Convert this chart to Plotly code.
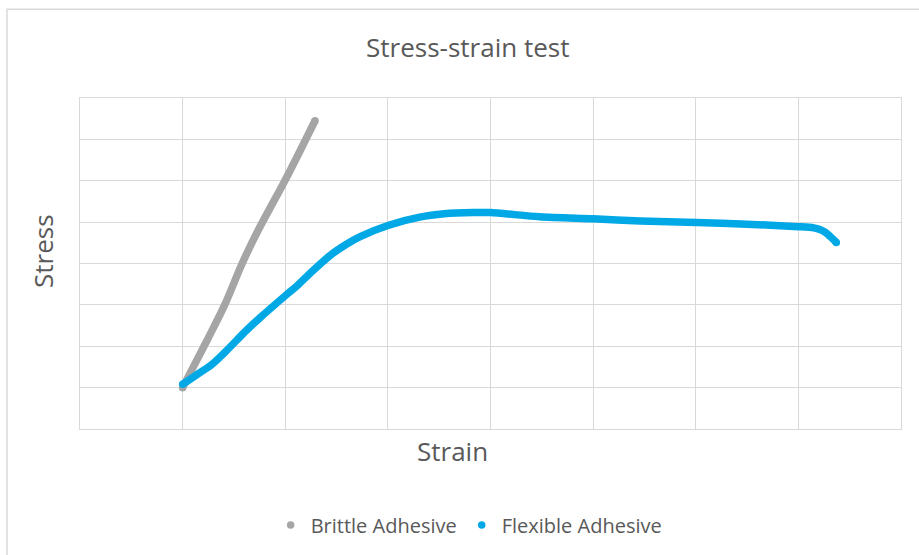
import plotly.graph_objects as go

# ---- data ----
brittle_strain = [0.0, 0.25, 0.41, 0.58, 0.74, 1.00, 1.15, 1.29]
brittle_stress = [0.0, 1.20, 2.00, 3.00, 3.82, 5.02, 5.75, 6.45]

flexible_strain = [0.0, 0.15, 0.28, 0.41, 0.62, 0.75, 1.00, 1.11, 1.24, 1.44, 1.60,
                   1.73, 2.00, 2.31, 2.55, 2.83, 3.00, 3.48, 4.00, 4.46, 5.01,
                   5.50, 6.00, 6.15, 6.21, 6.27, 6.31, 6.37]
flexible_stress = [0.08, 0.33, 0.55, 0.85, 1.38, 1.68, 2.22, 2.45, 2.76, 3.20, 3.47,
                   3.65, 3.92, 4.12, 4.20, 4.23, 4.23, 4.13, 4.08, 4.03, 3.99,
                   3.95, 3.89, 3.86, 3.82, 3.74, 3.65, 3.51]

series_names = ["Brittle Adhesive", "Flexible Adhesive"]
series_colors = ["#A5A5A5", "#00A9E6"]

chart_title = "Stress-strain test"
x_title = "Strain"
y_title = "Stress"

FONT = "Open Sans"
TXT = "#595959"
GRID = "#D9D9D9"

fig = go.Figure()

for name, color, xs, ys in [
    (series_names[0], series_colors[0], brittle_strain, brittle_stress),
    (series_names[1], series_colors[1], flexible_strain, flexible_stress),
]:
    fig.add_trace(go.Scatter(
        x=xs, y=ys, mode="lines", showlegend=False, hoverinfo="skip",
        line=dict(color=color, width=7.5, shape="spline", smoothing=0.8),
    ))
    fig.add_trace(go.Scatter(
        x=[xs[0], xs[-1]], y=[ys[0], ys[-1]], mode="markers", name=name,
        marker=dict(color=color, size=7.5, line=dict(width=0)),
    ))

axis_common = dict(
    range=[-1, 7], tick0=0, dtick=1, showticklabels=False, ticks="",
    showgrid=True, gridcolor=GRID, gridwidth=1,
    zeroline=True, zerolinecolor=GRID, zerolinewidth=1,
    showline=True, mirror=True, linecolor=GRID, linewidth=1,
    fixedrange=True,
)

fig.update_layout(
    width=919, height=555, autosize=False,
    margin=dict(l=80, r=18, t=98, b=125),
    paper_bgcolor="white", plot_bgcolor="white",
    font=dict(family=FONT, color=TXT),
    xaxis=axis_common, yaxis=axis_common,
    legend=dict(
        orientation="h", x=0.474, xanchor="center", y=-0.286, yanchor="middle",
        font=dict(family=FONT, size=20, color=TXT),
        bgcolor="rgba(0,0,0,0)",
    ),
    showlegend=True,
)

# outer chart frame (left and top edges visible)
fig.add_shape(type="rect", xref="paper", yref="paper",
              x0=-0.0889, x1=1.2, y0=-0.5, y1=1.268,
              line=dict(color=GRID, width=1.5), fillcolor="rgba(0,0,0,0)", layer="below")

fig.add_annotation(text=chart_title, xref="paper", yref="paper",
                   x=0.472, y=1.154, xanchor="center", yanchor="middle",
                   showarrow=False, font=dict(family=FONT, size=26, color=TXT))
fig.add_annotation(text=x_title, xref="paper", yref="paper",
                   x=0.454, y=-0.066, xanchor="center", yanchor="middle",
                   showarrow=False, font=dict(family=FONT, size=26, color=TXT))
fig.add_annotation(text=y_title, xref="paper", yref="paper",
                   x=-0.045, y=0.538, xanchor="center", yanchor="middle",
                   textangle=-90,
                   showarrow=False, font=dict(family=FONT, size=26, color=TXT))

fig.write_html("out.html",
               config={"displayModeBar": False, "staticPlot": True},
               post_script="document.body.style.margin='0';document.body.style.overflow='hidden';")
